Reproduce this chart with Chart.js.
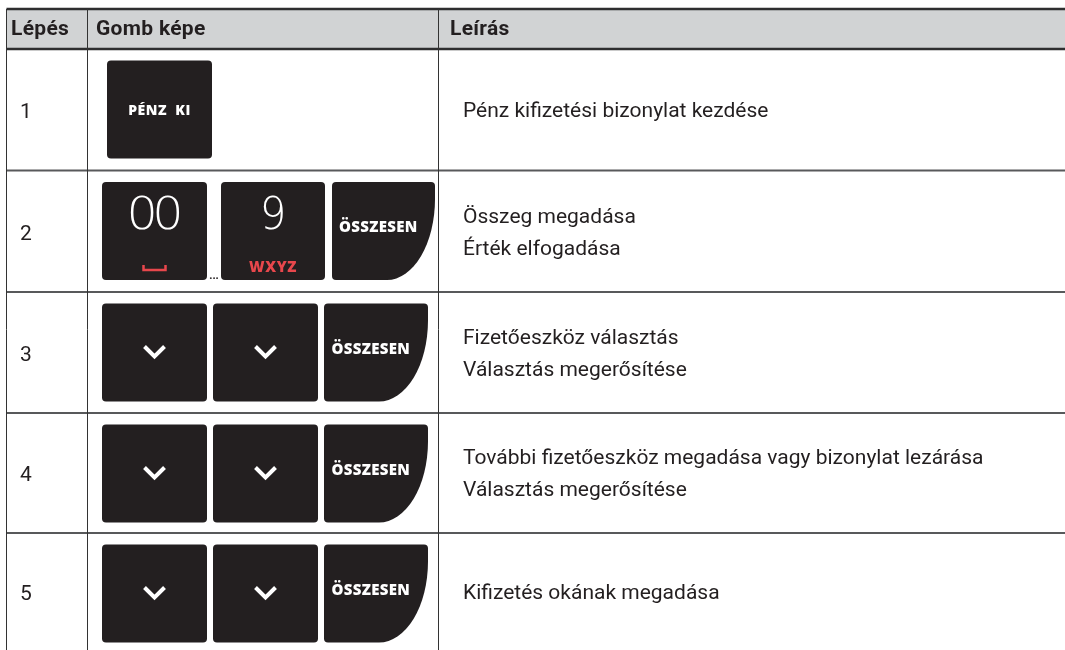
<!DOCTYPE html>
<html><head><meta charset="utf-8">
<script src="https://cdn.jsdelivr.net/npm/chart.js@4.4.1/dist/chart.umd.min.js"></script>
<style>html,body{margin:0;padding:0;background:#fff}#wrap{width:1065px;height:650px;position:relative}</style>
</head><body><div id="wrap"><canvas id="c"></canvas></div>
<script>
// ---- data ----
const headers = ['Lépés', 'Gomb képe', 'Leírás'];
const steps = ['1', '2', '3', '4', '5'];
const keyLabels = [
  ['PÉNZ  KI'],
  ['00', '9', 'ÖSSZESEN'],
  ['˅', '˅', 'ÖSSZESEN'],
  ['˅', '˅', 'ÖSSZESEN'],
  ['˅', '˅', 'ÖSSZESEN']
];
const keySubLabels = [
  [''],
  ['␣', 'WXYZ', ''],
  ['', '', ''],
  ['', '', ''],
  ['', '', '']
];
const descriptions = [
  ['Pénz kifizetési bizonylat kezdése'],
  ['Összeg megadása', 'Érték elfogadása'],
  ['Fizetőeszköz választás', 'Választás megerősítése'],
  ['További fizetőeszköz megadása vagy bizonylat lezárása', 'Választás megerősítése'],
  ['Kifizetés okának megadása']
];

// ---- layout (positions in axis units) ----
const layout = {
  colEdges: [6.5, 87.5, 438.5, 1065],
  rowEdges: [9, 49, 170.5, 292, 413, 533, 650],
  headerX: [11, 96, 450],
  stepX: 20,
  descX: 463,
  lineGap: 32,
  keyTopOffset: 11.5,
  keyH: 98,
  keyX: [[107], [102, 221, 332], [102, 213, 324], [102, 213, 324], [102, 213, 324]],
  keyW: [[105], [105, 104, 103], [105, 105, 104], [105, 105, 104], [105, 105, 104]],
  keyShape: [['sq'], ['sq', 'sq', 'enter'], ['sq', 'sq', 'enter'], ['sq', 'sq', 'enter'], ['sq', 'sq', 'enter']],
  ellipsisRow: 1
};

const INK = '#231f20';
const RED = '#e8474c';

function roundRect(ctx, x, y, w, h, r) {
  ctx.beginPath();
  ctx.moveTo(x + r, y);
  ctx.arcTo(x + w, y, x + w, y + h, r);
  ctx.arcTo(x + w, y + h, x, y + h, r);
  ctx.arcTo(x, y + h, x, y, r);
  ctx.arcTo(x, y, x + w, y, r);
  ctx.closePath();
}
function enterKey(ctx, x, y, w, h, r) {
  const cx = x + 55, cy = y + 17;
  ctx.beginPath();
  ctx.moveTo(x + r, y);
  ctx.arcTo(x + w, y, x + w, y + h, r);
  ctx.lineTo(x + w, cy);
  ctx.ellipse(cx, cy, x + w - cx, y + h - cy, 0, 0, Math.PI / 2);
  ctx.arcTo(x, y + h, x, y, r);
  ctx.arcTo(x, y, x + w, y, r);
  ctx.closePath();
}

const tablePlugin = {
  id: 'tablePlugin',
  afterDraw(chart) {
    const ctx = chart.ctx;
    const X = v => chart.scales.x.getPixelForValue(v);
    const Y = v => chart.scales.y.getPixelForValue(v);
    const L = layout;
    const re = L.rowEdges, ce = L.colEdges;
    ctx.save();
    // header background
    ctx.fillStyle = '#d1d3d4';
    ctx.fillRect(X(ce[0]), Y(re[0]), X(ce[3]) - X(ce[0]), Y(re[1]) - Y(re[0]));
    // horizontal lines
    ctx.strokeStyle = '#2e2e2f';
    ctx.lineWidth = 2.5;
    ctx.beginPath(); ctx.moveTo(X(ce[0]), Y(re[0])); ctx.lineTo(X(ce[3]), Y(re[0])); ctx.stroke();
    ctx.beginPath(); ctx.moveTo(X(ce[0]), Y(re[1])); ctx.lineTo(X(ce[3]), Y(re[1])); ctx.stroke();
    ctx.strokeStyle = '#58595b';
    ctx.lineWidth = 2;
    for (let i = 2; i < re.length - 1; i++) {
      ctx.beginPath(); ctx.moveTo(X(ce[0]), Y(re[i])); ctx.lineTo(X(ce[3]), Y(re[i])); ctx.stroke();
    }
    // vertical lines
    ctx.strokeStyle = '#333333';
    ctx.lineWidth = 1;
    for (let i = 0; i < 3; i++) {
      ctx.beginPath(); ctx.moveTo(X(ce[i]), Y(re[0])); ctx.lineTo(X(ce[i]), Y(re[re.length - 1])); ctx.stroke();
    }
    // header text
    ctx.fillStyle = INK;
    ctx.textBaseline = 'middle';
    ctx.textAlign = 'left';
    ctx.font = 'bold 21px Roboto';
    ctx.letterSpacing = '0.3px';
    headers.forEach((h, i) => ctx.fillText(h, X(L.headerX[i]), Y((re[0] + re[1]) / 2 + 1)));
    // rows
    steps.forEach((s, r) => {
      const top = re[r + 1], bot = re[r + 2];
      const mid = (top + bot) / 2;
      ctx.fillStyle = INK;
      ctx.font = '21px Roboto';
      ctx.textAlign = 'left';
      ctx.letterSpacing = '0px';
      ctx.fillText(s, X(L.stepX), Y(mid + 3));
      // description
      const lines = descriptions[r];
      lines.forEach((t, k) => {
        const yy = mid + 2 + (k - (lines.length - 1) / 2) * L.lineGap;
        ctx.fillText(t, X(L.descX), Y(yy));
      });
      // keys
      keyLabels[r].forEach((lab, k) => {
        const kx = X(L.keyX[r][k]), ky = Y(top + L.keyTopOffset);
        const kw = X(L.keyX[r][k] + L.keyW[r][k]) - kx, kh = Y(top + L.keyTopOffset + L.keyH) - ky;
        ctx.fillStyle = INK;
        if (L.keyShape[r][k] === 'enter') enterKey(ctx, kx, ky, kw, kh, 4); else roundRect(ctx, kx, ky, kw, kh, 4);
        ctx.fill();
        ctx.fillStyle = '#ffffff';
        ctx.strokeStyle = '#ffffff';
        const cxk = kx + kw / 2, cyk = ky + kh / 2;
        ctx.letterSpacing = '0px';
        if (lab === '˅') {
          ctx.lineWidth = 4;
          ctx.lineCap = 'butt';
          ctx.lineJoin = 'miter';
          ctx.beginPath();
          ctx.moveTo(cxk - 10, cyk - 6);
          ctx.lineTo(cxk, cyk + 4);
          ctx.lineTo(cxk + 10, cyk - 6);
          ctx.stroke();
        } else if (lab === '00' || lab === '9') {
          ctx.save();
          ctx.translate(cxk, cyk - 13);
          ctx.scale(lab === '00' ? 1.12 : 0.95, 1);
          ctx.font = '200 44px "DejaVu Sans"';
          ctx.letterSpacing = lab === '00' ? '-5px' : '0px';
          ctx.textAlign = 'center';
          ctx.fillText(lab, lab === '00' ? -2 : 0, 0);
          ctx.restore();
        } else if (lab === 'ÖSSZESEN') {
          ctx.font = '800 15px "Open Sans"';
          ctx.letterSpacing = '0.3px';
          ctx.textAlign = 'center';
          ctx.fillText(lab, kx + kw * 0.45, cyk - 3);
        } else {
          ctx.font = '800 14px "Open Sans"';
          ctx.letterSpacing = '0.5px';
          ctx.textAlign = 'center';
          ctx.fillText(lab, cxk, cyk + 2);
        }
        const sub = keySubLabels[r][k];
        if (sub) {
          ctx.fillStyle = RED;
          ctx.strokeStyle = RED;
          ctx.textAlign = 'center';
          if (sub === '␣') {
            // open-box (space) symbol drawn as a flat bracket
            const by = ky + kh - 10;
            ctx.lineWidth = 2.5;
            ctx.lineCap = 'butt';
            ctx.beginPath();
            ctx.moveTo(cxk - 11, by - 5);
            ctx.lineTo(cxk - 11, by);
            ctx.lineTo(cxk + 11, by);
            ctx.lineTo(cxk + 11, by - 5);
            ctx.stroke();
          } else {
            ctx.font = '800 15px "Open Sans"';
            ctx.letterSpacing = '0.6px';
            ctx.fillText(sub, cxk, ky + kh - 12);
          }
        }
      });
      if (r === L.ellipsisRow) {
        ctx.fillStyle = INK;
        ctx.letterSpacing = '0px';
        ctx.font = 'bold 11px "Open Sans"';
        ctx.textAlign = 'center';
        const ex = (X(L.keyX[r][0] + L.keyW[r][0]) + X(L.keyX[r][1])) / 2;
        ctx.fillText('...', ex, Y(top + L.keyTopOffset + L.keyH - 4));
      }
    });
    ctx.restore();
  }
};

new Chart(document.getElementById('c'), {
  type: 'scatter',
  data: { datasets: [{ data: [], pointRadius: 0 }] },
  options: {
    responsive: true,
    maintainAspectRatio: false,
    animation: false,
    layout: { padding: 0 },
    plugins: { legend: { display: false }, tooltip: { enabled: false } },
    scales: {
      x: { type: 'linear', min: 0, max: 1065, display: false },
      y: { type: 'linear', min: 0, max: 650, reverse: true, display: false }
    }
  },
  plugins: [tablePlugin]
});
</script>
</body></html>
